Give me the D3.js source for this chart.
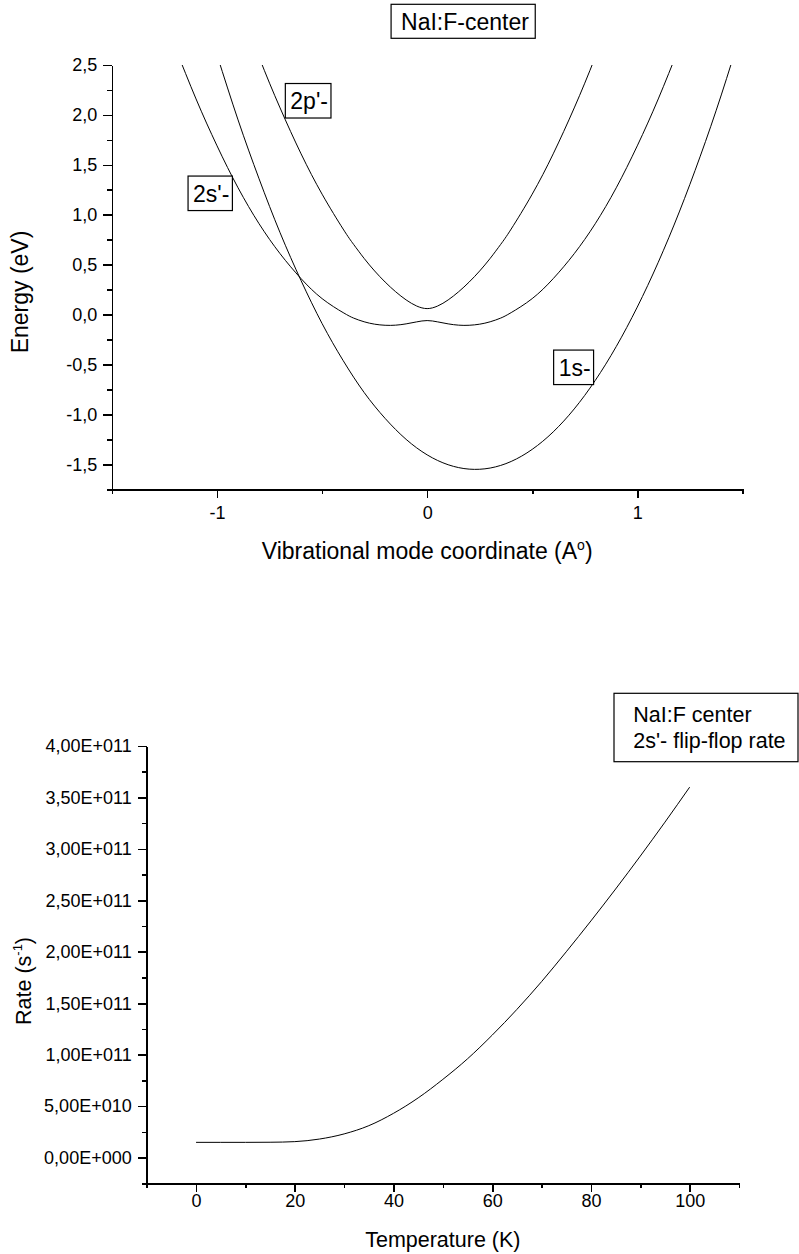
<!DOCTYPE html>
<html>
<head>
<meta charset="utf-8">
<script src="https://cdn.jsdelivr.net/npm/d3@7"></script>
<style>
body { margin: 0; background: #fff; }
svg { font-family: "Liberation Sans", Arial, sans-serif; }
.axis path, .axis line { stroke: #000; stroke-width: 1.6; shape-rendering: crispEdges; }
.axis text { font-size: 18px; fill: #000; }
.curve { fill: none; stroke: #000; stroke-width: 1; }
</style>
</head>
<body>
<div id="chart"></div>
<script>
// ---- top panel: NaI F-center potential curves ----
var coordTicks = [-1, 0, 1];
var coordTickLabels = ["-1", "0", "1"];
var coordMinor = [-1.5, -0.5, 0.5, 1.5];
var energyTicks = [-1.5, -1, -0.5, 0, 0.5, 1, 1.5, 2, 2.5];
var energyTickLabels = ["-1,5", "-1,0", "-0,5", "0,0", "0,5", "1,0", "1,5", "2,0", "2,5"];
var energyMinor = [-1.75, -1.25, -0.75, -0.25, 0.25, 0.75, 1.25, 1.75, 2.25];

// 1s- curve
var x1s = [-1.0, -0.9, -0.8, -0.7, -0.6, -0.5, -0.4, -0.3, -0.2, -0.1, 0.0, 0.1, 0.2,
    0.3, 0.4, 0.5, 0.6, 0.7, 0.8, 0.9, 1.0, 1.1, 1.2, 1.3, 1.4, 1.5];
var e1s = [2.60, 1.95, 1.36, 0.82, 0.34, -0.09, -0.46, -0.78, -1.04, -1.25, -1.405, -1.504, -1.548,
    -1.537, -1.471, -1.35, -1.175, -0.945, -0.66, -0.32, 0.075, 0.524, 1.028, 1.587, 2.20, 2.87];

// 2s'- curve (double well)
var x2s = [-1.2, -1.1, -1.0, -0.9, -0.8, -0.7, -0.6, -0.5, -0.4, -0.35, -0.3, -0.25, -0.2, -0.15, -0.1, -0.05, 0,
    0.05, 0.1, 0.15, 0.2, 0.25, 0.3, 0.35, 0.4, 0.5, 0.6, 0.7, 0.8, 0.9, 1.0, 1.1, 1.2];
var e2s = [2.68, 2.16, 1.69, 1.27, 0.91, 0.61, 0.36, 0.16, 0.02, -0.035, -0.072, -0.096, -0.107, -0.106, -0.093, -0.073, -0.06,
    -0.073, -0.093, -0.106, -0.107, -0.096, -0.072, -0.035, 0.02, 0.16, 0.36, 0.61, 0.91, 1.27, 1.69, 2.16, 2.68];

// 2p'- curve
var x2p = [-0.9, -0.8, -0.7, -0.6, -0.5, -0.4, -0.35, -0.3, -0.25, -0.2, -0.15, -0.1, -0.05, 0,
    0.05, 0.1, 0.15, 0.2, 0.25, 0.3, 0.35, 0.4, 0.5, 0.6, 0.7, 0.8, 0.9];
var e2p = [3.15, 2.58, 2.07, 1.61, 1.206, 0.857, 0.703, 0.563, 0.437, 0.326, 0.229, 0.147, 0.086, 0.06,
    0.086, 0.147, 0.229, 0.326, 0.437, 0.563, 0.703, 0.857, 1.206, 1.61, 2.07, 2.58, 3.15];

// ---- bottom panel: flip-flop rate ----
var tempK = [0, 5, 10, 15, 20, 25, 30, 35, 40, 45, 50, 55, 60, 65, 70, 75, 80, 85, 90, 95, 100];
var rate = [1.48e10, 1.48e10, 1.48e10, 1.49e10, 1.55e10, 1.8e10, 2.3e10, 3.1e10, 4.3e10, 5.8e10, 7.6e10,
    9.6e10, 11.9e10, 14.4e10, 17.1e10, 20.0e10, 23.0e10, 26.1e10, 29.3e10, 32.6e10, 36.0e10];
var tempTicks = [0, 20, 40, 60, 80, 100];
var tempMinor = [-10, 10, 30, 50, 70, 90, 110];
var rateTicks = [0, 5e10, 1e11, 1.5e11, 2e11, 2.5e11, 3e11, 3.5e11, 4e11];
var rateTickLabels = ["0,00E+000", "5,00E+010", "1,00E+011", "1,50E+011", "2,00E+011",
    "2,50E+011", "3,00E+011", "3,50E+011", "4,00E+011"];
var rateMinor = [-2.5e10, 2.5e10, 7.5e10, 1.25e11, 1.75e11, 2.25e11, 2.75e11, 3.25e11, 3.75e11];

var svgWidth = 799;
var svgHeight = 1254;

var svg = d3.select("#chart")
    .append("svg")
    .attr("width", svgWidth)
    .attr("height", svgHeight);

svg.append("rect")
    .attr("width", svgWidth)
    .attr("height", svgHeight)
    .attr("fill", "#fff");

// draws a left/bottom axis pair with major + minor ticks
function drawAxes(g, xScale, yScale, h, opt) {
    g.append("g")
        .attr("class", "axis")
        .attr("transform", `translate(0, ${h})`)
        .call(d3.axisBottom(xScale)
            .tickValues(opt.xTicks)
            .tickSize(9)
            .tickSizeOuter(0)
            .tickPadding(opt.xPad)
            .tickFormat((d, i) => opt.xLabels[i]));
    g.append("g")
        .attr("class", "axis")
        .attr("transform", `translate(0, ${h})`)
        .call(d3.axisBottom(xScale).tickValues(opt.xMinor).tickSize(5).tickFormat(""))
        .select(".domain").remove();

    g.append("g")
        .attr("class", "axis")
        .call(d3.axisLeft(yScale)
            .tickValues(opt.yTicks)
            .tickSize(9)
            .tickSizeOuter(0)
            .tickPadding(opt.yPad)
            .tickFormat((d, i) => opt.yLabels[i]));
    g.append("g")
        .attr("class", "axis")
        .call(d3.axisLeft(yScale).tickValues(opt.yMinor).tickSize(5).tickFormat(""))
        .select(".domain").remove();
}

// boxed label like the Origin text objects
function boxLabel(g, x, y, txt, size) {
    var t = g.append("text")
        .attr("x", x)
        .attr("y", y)
        .attr("font-size", size + "px")
        .text(txt);
    var bb = t.node().getBBox();
    g.insert("rect", "text")
        .attr("x", bb.x - 5)
        .attr("y", bb.y - 4.5)
        .attr("width", bb.width + 8)
        .attr("height", bb.height + 8.5)
        .attr("fill", "#fff")
        .attr("stroke", "#000")
        .attr("stroke-width", 1.2);
    return t;
}

// ================= top chart =================
var m1 = { left: 112, top: 65, width: 630.3, height: 424.3 };
var topChart = svg.append("g")
    .attr("transform", `translate(${m1.left}, ${m1.top})`);

var xCoord = d3.scaleLinear().domain([-1.5, 1.5]).range([0, m1.width]);
var yEnergy = d3.scaleLinear().domain([-1.75, 2.5]).range([m1.height, 0]);

topChart.append("clipPath")
    .attr("id", "clipTop")
    .append("rect")
    .attr("width", m1.width)
    .attr("height", m1.height);

var lineTop = d3.line()
    .x(d => xCoord(d[0]))
    .y(d => yEnergy(d[1]))
    .curve(d3.curveNatural);

var curves = [d3.zip(x1s, e1s), d3.zip(x2s, e2s), d3.zip(x2p, e2p)];
topChart.append("g")
    .attr("clip-path", "url(#clipTop)")
    .selectAll("path")
    .data(curves)
    .enter()
    .append("path")
    .attr("class", "curve")
    .attr("d", lineTop);

drawAxes(topChart, xCoord, yEnergy, m1.height, {
    xTicks: coordTicks, xLabels: coordTickLabels, xMinor: coordMinor, xPad: 7.5,
    yTicks: energyTicks, yLabels: energyTickLabels, yMinor: energyMinor, yPad: 5.7
});

// curve labels
var labTop = topChart.append("g");
boxLabel(labTop, xCoord(-0.675) + 5, yEnergy(1.974) - 8.5, "2p'-", 23);
boxLabel(labTop, xCoord(-1.138) + 5, yEnergy(1.047) - 8.5, "2s'-", 23);
boxLabel(labTop, xCoord(0.602) + 5, yEnergy(-0.696) - 8.5, "1s-", 23);

// title box
var ttl = svg.append("g");
var tt = ttl.append("text")
    .attr("x", 465)
    .attr("y", 29.5)
    .attr("text-anchor", "middle")
    .attr("font-size", "23px")
    .text("NaI:F-center");
var tb = tt.node().getBBox();
ttl.insert("rect", "text")
    .attr("x", tb.x - 10)
    .attr("y", 4.3)
    .attr("width", tb.width + 16)
    .attr("height", 34)
    .attr("fill", "#fff")
    .attr("stroke", "#000")
    .attr("stroke-width", 1.2);

// axis titles
svg.append("text")
    .attr("transform", "translate(28, 292) rotate(-90)")
    .attr("text-anchor", "middle")
    .attr("font-size", "23px")
    .text("Energy (eV)");

var xt1 = svg.append("text")
    .attr("x", m1.left + m1.width / 2)
    .attr("y", 559)
    .attr("text-anchor", "middle")
    .attr("font-size", "23px");
xt1.append("tspan").text("Vibrational mode coordinate (A");
xt1.append("tspan").attr("dy", -9).attr("font-size", "14px").text("o");
xt1.append("tspan").attr("dy", 9).text(")");

// ================= bottom chart =================
var m2 = { left: 146.7, top: 746, width: 592.3, height: 437.3 };
var botChart = svg.append("g")
    .attr("transform", `translate(${m2.left}, ${m2.top})`);

var xTemp = d3.scaleLinear().domain([-10, 110]).range([0, m2.width]);
var yRate = d3.scaleLinear().domain([-2.5e10, 4e11]).range([m2.height, 0]);

botChart.append("path")
    .datum(d3.zip(tempK, rate))
    .attr("class", "curve")
    .attr("d", d3.line()
        .x(d => xTemp(d[0]))
        .y(d => yRate(d[1]))
        .curve(d3.curveMonotoneX));

drawAxes(botChart, xTemp, yRate, m2.height, {
    xTicks: tempTicks, xLabels: tempTicks.map(String), xMinor: tempMinor, xPad: 1.5,
    yTicks: rateTicks, yLabels: rateTickLabels, yMinor: rateMinor, yPad: 6
});

svg.append("text")
    .attr("x", m2.left + m2.width / 2)
    .attr("y", 1246.5)
    .attr("text-anchor", "middle")
    .attr("font-size", "21.5px")
    .text("Temperature (K)");

var yt2 = svg.append("text")
    .attr("transform", "translate(31, 1025) rotate(-90)")
    .attr("font-size", "21.5px");
yt2.append("tspan").text("Rate (s");
yt2.append("tspan").attr("dy", -9).attr("font-size", "13px").text("-1");
yt2.append("tspan").attr("dy", 9).text(")");

// legend box
var leg = svg.append("g");
leg.append("rect")
    .attr("x", 614)
    .attr("y", 693.3)
    .attr("width", 184)
    .attr("height", 68.4)
    .attr("fill", "#fff")
    .attr("stroke", "#000")
    .attr("stroke-width", 1.2);
leg.append("text")
    .attr("x", 633.3)
    .attr("y", 721.7)
    .attr("font-size", "21.5px")
    .text("NaI:F center");
leg.append("text")
    .attr("x", 633.3)
    .attr("y", 748.3)
    .attr("font-size", "21.5px")
    .text("2s'- flip-flop rate");
</script>
</body>
</html>
